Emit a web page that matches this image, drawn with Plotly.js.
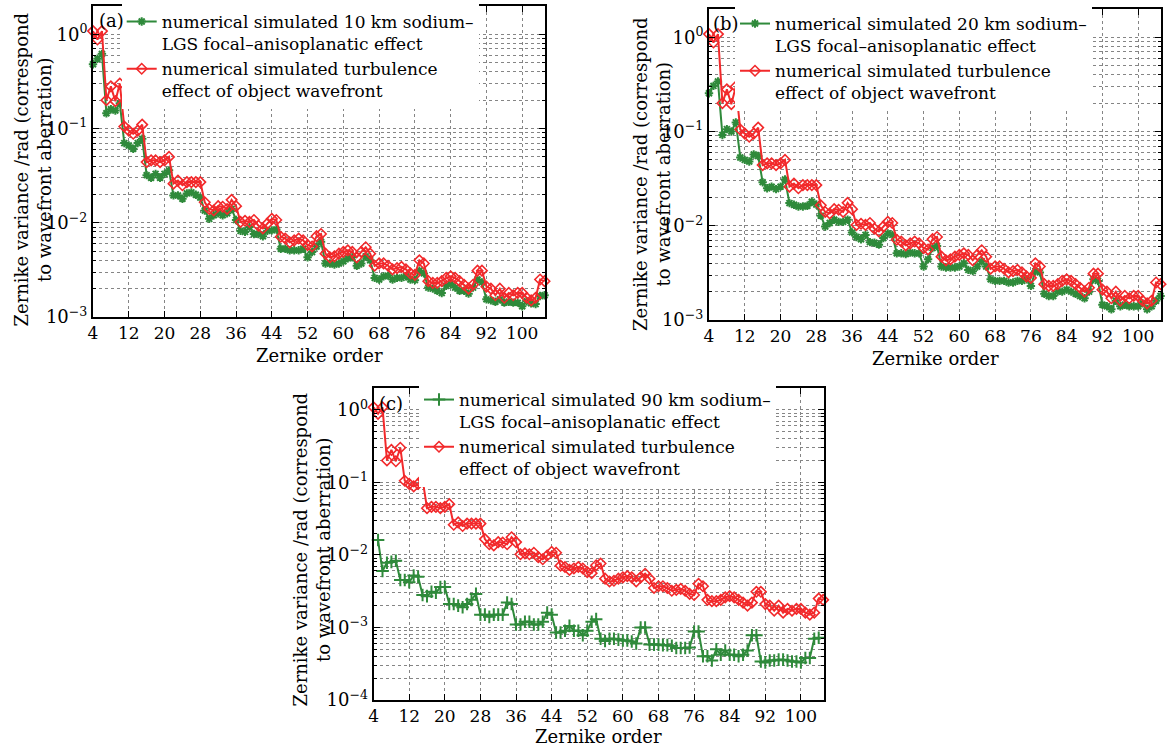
<!DOCTYPE html>
<html><head><meta charset="utf-8">
<script src="https://cdn.plot.ly/plotly-3.0.1.min.js"></script>
<style>html,body{margin:0;padding:0;background:#fff}</style>
</head><body><div id="chart" style="width:1175px;height:746px"></div>
<script>
// ---------------- data ----------------
const zernikeOrder = [4,5,6,7,8,9,10,11,12,13,14,15,16,17,18,19,20,21,22,23,24,25,26,27,28,29,30,31,32,33,34,35,36,37,38,39,40,41,42,43,44,45,46,47,48,49,50,51,52,53,54,55,56,57,58,59,60,61,62,63,64,65,66,67,68,69,70,71,72,73,74,75,76,77,78,79,80,81,82,83,84,85,86,87,88,89,90,91,92,93,94,95,96,97,98,99,100,101,102,103,104,105];
const zernikeOrder90km = [5,6,7,8,9,10,11,12,13,14,15,16,17,18,19,20,21,22,23,24,25,26,27,28,29,30,31,32,33,34,35,36,37,38,39,40,41,42,43,44,45,46,47,48,49,50,51,52,53,54,55,56,57,58,59,60,61,62,63,64,65,66,67,68,69,70,71,72,73,74,75,76,77,78,79,80,81,82,83,84,85,86,87,88,89,90,91,92,93,94,95,96,97,98,99,100,101,102,103,104];

const turbulenceVariance = [
  1.08, 0.88, 1.08,
  0.2, 0.28, 0.195, 0.3,
  0.105, 0.095, 0.088, 0.095, 0.11,
  0.044, 0.046, 0.046, 0.044, 0.046, 0.05,
  0.026, 0.028, 0.025, 0.027, 0.027, 0.027, 0.027,
  0.0165, 0.014, 0.0135, 0.015, 0.0148, 0.014, 0.0175, 0.015,
  0.0102, 0.0105, 0.0102, 0.0107, 0.0093, 0.0087, 0.0098, 0.011, 0.0107,
  0.0071, 0.0068, 0.0062, 0.0065, 0.0068, 0.0065, 0.0058, 0.0056, 0.0072, 0.0076,
  0.0047, 0.0043, 0.0044, 0.0047, 0.0049, 0.0051, 0.0049, 0.0043, 0.0049, 0.0055, 0.0047,
  0.0035, 0.0037, 0.0037, 0.0035, 0.0032, 0.0033, 0.0034, 0.0032, 0.0029, 0.0028, 0.004, 0.0037,
  0.0024, 0.0023, 0.0023, 0.0024, 0.0026, 0.0027, 0.0026, 0.0024, 0.0022, 0.002, 0.0022, 0.0031, 0.0031,
  0.0021, 0.002, 0.0017, 0.002, 0.0016, 0.0018, 0.0017, 0.0018, 0.0018, 0.0016, 0.0015, 0.0016, 0.0025, 0.0024
];

const lgs10kmVariance = [
  0.48, 0.55, 0.62,
  0.145, 0.16, 0.155, 0.185,
  0.07, 0.066, 0.061, 0.07, 0.078,
  0.032, 0.03, 0.033, 0.03, 0.033, 0.036,
  0.0195, 0.0195, 0.018, 0.0205, 0.021, 0.0198, 0.0185,
  0.0135, 0.011, 0.012, 0.0126, 0.012, 0.0126, 0.014, 0.0107,
  0.0082, 0.008, 0.009, 0.0076, 0.0076, 0.0072, 0.0082, 0.0083, 0.0085,
  0.0053, 0.0053, 0.0051, 0.0051, 0.0051, 0.0053, 0.0043, 0.0049, 0.0056, 0.0063,
  0.0037, 0.0037, 0.0036, 0.0037, 0.0039, 0.0042, 0.0043, 0.0035, 0.0037, 0.0044, 0.004,
  0.0026, 0.0025, 0.0027, 0.00275, 0.0025, 0.0026, 0.0026, 0.0027, 0.0025, 0.00246, 0.0031, 0.0029,
  0.00205, 0.002, 0.0019, 0.0018, 0.00214, 0.00224, 0.00205, 0.0019, 0.0019, 0.00177, 0.00205, 0.0025, 0.00233,
  0.00154, 0.0015, 0.00145, 0.00154, 0.00142, 0.00145, 0.00142, 0.00142, 0.0013, 0.00147, 0.0014, 0.00137, 0.00167, 0.0017
];

const lgs20kmVariance = [
  0.255, 0.305, 0.34,
  0.092, 0.106, 0.1, 0.125,
  0.053, 0.05, 0.048, 0.057, 0.055,
  0.029, 0.025, 0.026, 0.0245, 0.026, 0.031,
  0.0174, 0.0167, 0.016, 0.016, 0.0163, 0.018, 0.0168,
  0.0128, 0.0098, 0.0107, 0.0116, 0.011, 0.011, 0.0116, 0.0085,
  0.0076, 0.0072, 0.008, 0.0067, 0.0066, 0.0063, 0.0074, 0.0083, 0.008,
  0.0051, 0.0051, 0.005, 0.0052, 0.0051, 0.0051, 0.0037, 0.0044, 0.0058, 0.0061,
  0.0037, 0.0036, 0.0036, 0.0036, 0.0037, 0.004, 0.0034, 0.0033, 0.0037, 0.0042, 0.0037,
  0.0027, 0.0026, 0.0026, 0.0026, 0.0025, 0.0025, 0.0026, 0.0026, 0.0027, 0.0023, 0.0033, 0.0032,
  0.0019, 0.0018, 0.0018, 0.002, 0.002, 0.0021, 0.002, 0.0019, 0.0018, 0.0017, 0.002, 0.0027, 0.0026,
  0.00145, 0.0014, 0.0013, 0.0016, 0.0014, 0.00145, 0.0014, 0.0014, 0.0014, 0.0015, 0.0013, 0.0014, 0.0016, 0.0018
];

const lgs90kmVariance = [
  0.016,
  0.006, 0.0078, 0.008, 0.0083,
  0.0045, 0.0045, 0.0042, 0.0052, 0.005,
  0.0028, 0.0027, 0.0031, 0.003, 0.0036, 0.0036,
  0.0021, 0.0021, 0.002, 0.0019, 0.0021, 0.0024, 0.0029,
  0.0015, 0.0015, 0.0014, 0.0015, 0.0015, 0.0015, 0.0022, 0.0021,
  0.0011, 0.0011, 0.0012, 0.0012, 0.0011, 0.0011, 0.0012, 0.0016, 0.0015,
  0.00085, 0.00085, 0.0009, 0.00105, 0.0009, 0.0009, 0.00078, 0.0009, 0.0012, 0.0013,
  0.0007, 0.00065, 0.0007, 0.0007, 0.00068, 0.00066, 0.00066, 0.00064, 0.0006, 0.001, 0.001,
  0.00058, 0.00058, 0.00058, 0.00057, 0.00057, 0.00056, 0.00052, 0.00052, 0.00052, 0.00053, 0.00088, 0.00088,
  0.0004, 0.0004, 0.00035, 0.0005, 0.00042, 0.00048, 0.00042, 0.00042, 0.0004, 0.00042, 0.00048, 0.00078, 0.00078,
  0.00034, 0.00033, 0.00035, 0.00035, 0.00036, 0.00036, 0.00035, 0.00034, 0.00034, 0.00033, 0.00038, 0.00038, 0.0007, 0.00072
];

const xTickVals = [4,12,20,28,36,44,52,60,68,76,84,92,100];
const xTickText = ['4','12','20','28','36','44','52','60','68','76','84','92','100'];
const yTickValsAB = [0.001, 0.01, 0.1, 1];
const yTickTextAB = ['10<sup>−3</sup>','10<sup>−2</sup>','10<sup>−1</sup>','10<sup>0</sup>'];
const yTickValsC = [0.0001, 0.001, 0.01, 0.1, 1];
const yTickTextC = ['10<sup>−4</sup>','10<sup>−3</sup>','10<sup>−2</sup>','10<sup>−1</sup>','10<sup>0</sup>'];

const legendGreen10 = 'numerical simulated 10 km sodium–<br>LGS focal–anisoplanatic effect';
const legendGreen20 = 'numerical simulated 20 km sodium–<br>LGS focal–anisoplanatic effect';
const legendGreen90 = 'numerical simulated 90 km sodium–<br>LGS focal–anisoplanatic effect';
const legendRed = 'numerical simulated turbulence<br>effect of object wavefront';
const yTitle = 'Zernike variance /rad (correspond<br>to wavefront aberration)';
const xTitle = 'Zernike order';

// ---------------- styling ----------------
const W = 1175, H = 746;
const FONT = 'DejaVu Serif';
const GREEN = '#2f8a3b';
const RED = '#f2292b';
const GRID = '#858585';
const px = v => v / W;
const py = v => 1 - v / H;

function minorVals(lo, hi) {
  const out = [];
  for (let e = lo; e < hi; e++) for (let d = 2; d <= 9; d++) out.push(d * Math.pow(10, e));
  return out;
}

function xAxis(dom, anchor) {
  return {
    domain: dom, anchor: anchor, range: [4, 105.1],
    tickmode: 'array', tickvals: xTickVals, ticktext: xTickText,
    ticks: 'inside', ticklen: 6, tickwidth: 1, tickcolor: '#000',
    showline: true, linecolor: '#000', linewidth: 2, mirror: 'allticks',
    showgrid: true, gridcolor: GRID, griddash: 'dot', gridwidth: 1,
    zeroline: false, tickfont: {family: FONT, size: 17, color: '#000'}
  };
}
function yAxis(dom, anchor, rng, tv, tt, lo) {
  return {
    domain: dom, anchor: anchor, type: 'log', range: rng,
    tickmode: 'array', tickvals: tv, ticktext: tt,
    ticks: 'inside', ticklen: 6, tickwidth: 1, tickcolor: '#000',
    showline: true, linecolor: '#000', linewidth: 2, mirror: 'allticks',
    showgrid: true, gridcolor: GRID, griddash: 'dot', gridwidth: 1,
    minor: {tickmode: 'array', tickvals: minorVals(lo, 0), ticks: 'inside', ticklen: 3,
            tickcolor: '#000', showgrid: true, gridcolor: GRID, griddash: 'dot', gridwidth: 1},
    zeroline: false, tickfont: {family: FONT, size: 18, color: '#000'}
  };
}

function greenTrace(x, y, name, xa, ya, lg, symbol, size) {
  return {
    x: x, y: y, name: name, xaxis: xa, yaxis: ya, legend: lg,
    type: 'scatter', mode: 'lines+markers', cliponaxis: false,
    line: {color: GREEN, width: 2},
    marker: {symbol: symbol, size: size, color: GREEN, line: {color: GREEN, width: 2}}
  };
}
function redTrace(xa, ya, lg) {
  return {
    x: zernikeOrder, y: turbulenceVariance, name: legendRed, xaxis: xa, yaxis: ya, legend: lg,
    type: 'scatter', mode: 'lines+markers', cliponaxis: false,
    line: {color: RED, width: 2},
    marker: {symbol: 'diamond-open', size: 8, color: RED, line: {color: RED, width: 1.6}}
  };
}

const data = [
  greenTrace(zernikeOrder, lgs10kmVariance, legendGreen10, 'x', 'y', 'legend', 'asterisk-open', 7),
  redTrace('x', 'y', 'legend'),
  greenTrace(zernikeOrder, lgs20kmVariance, legendGreen20, 'x2', 'y2', 'legend2', 'asterisk-open', 7),
  redTrace('x2', 'y2', 'legend2'),
  greenTrace(zernikeOrder90km, lgs90kmVariance, legendGreen90, 'x3', 'y3', 'legend3', 'cross-thin-open', 9),
  redTrace('x3', 'y3', 'legend3')
];

function legendAt(xpx, ypx) {
  return {
    x: px(xpx), y: py(ypx), xanchor: 'left', yanchor: 'top',
    bgcolor: '#ffffff', borderwidth: 0, valign: 'top', itemwidth: 30,
    font: {family: FONT, size: 17, color: '#000'}, tracegroupgap: 0
  };
}

const txt = (t, x, y, opts) => Object.assign({
  text: t, xref: 'paper', yref: 'paper', x: px(x), y: py(y), showarrow: false,
  font: {family: FONT, size: 18, color: '#000'}, xanchor: 'center', yanchor: 'middle'
}, opts || {});

const layout = {
  width: W, height: H, margin: {l: 0, r: 0, t: 0, b: 0},
  paper_bgcolor: '#fff', plot_bgcolor: '#fff', showlegend: true,
  xaxis: xAxis([px(93), px(545)], 'y'),
  yaxis: yAxis([py(317), py(6)], 'x', [-3, 0.3], yTickValsAB, yTickTextAB, -3),
  xaxis2: xAxis([px(709), px(1161)], 'y2'),
  yaxis2: yAxis([py(320), py(9)], 'x2', [-3, 0.3], yTickValsAB, yTickTextAB, -3),
  xaxis3: xAxis([px(373.6), px(823.6)], 'y3'),
  yaxis3: yAxis([py(700), py(388)], 'x3', [-4, 0.3], yTickValsC, yTickTextC, -4),
  legend: legendAt(121.7, 4),
  legend2: legendAt(735, 6),
  legend3: legendAt(419, 382),
  annotations: [
    txt('(a)', 97, 20, {xanchor: 'left'}),
    txt('(b)', 711, 23, {xanchor: 'left'}),
    txt('(c)', 377, 403, {xanchor: 'left'}),
    txt(yTitle, 32.5, 170, {textangle: -90}),
    txt(yTitle, 652, 174, {textangle: -90}),
    txt(yTitle, 311.5, 550, {textangle: -90}),
    txt(xTitle, 319, 355),
    txt(xTitle, 935, 358),
    txt(xTitle, 598.6, 736)
  ]
};

Plotly.newPlot('chart', data, layout, {displayModeBar: false, staticPlot: true});
</script></body></html>
